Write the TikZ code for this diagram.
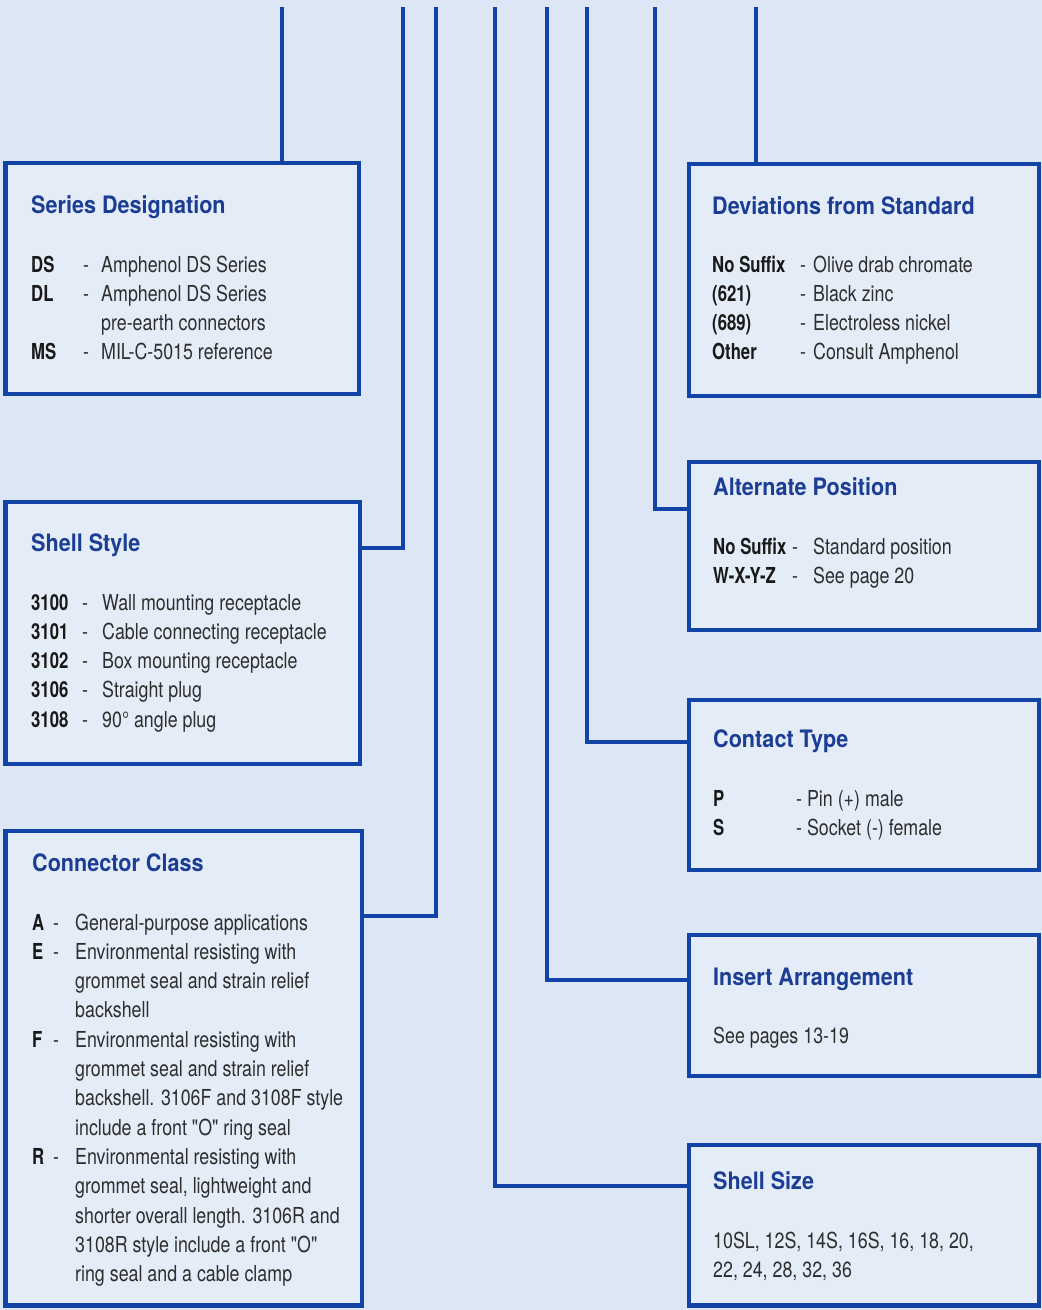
\documentclass[tikz,border=0pt]{standalone}
\usepackage{fontspec}
\newfontfamily\bodyfont[FakeStretch=0.81]{TeX Gyre Heros}
\newfontfamily\keyfont[FakeStretch=0.76]{TeX Gyre Heros}
\newfontfamily\headfont[FakeStretch=0.9]{TeX Gyre Heros}
\definecolor{paper}{HTML}{DDE6F4}
\definecolor{panel}{HTML}{E4ECF8}
\definecolor{frame}{HTML}{1243A6}
\definecolor{head}{HTML}{1B3D94}
\definecolor{ink}{HTML}{2E2E2E}
\newcommand{\lbl}[1]{\leavevmode{\keyfont\bfseries\color{black!90}#1}}
\begin{document}
\begin{tikzpicture}[x=1pt,y=-1pt,
  panelbox/.style={rectangle,draw=frame,fill=panel,line width=4.5pt,inner sep=0,outer sep=0,anchor=north west},
  wire/.style={draw=frame,line width=4.5pt},
  title/.style={anchor=base west,inner sep=0,text=head,font={\headfont\bfseries\fontsize{24}{29}\selectfont}},
  body/.style={anchor=base west,inner sep=0,text=ink,font={\bodyfont\fontsize{22}{29.3}\selectfont}}]
\fill[paper](0,0)rectangle(1042,1310);
\useasboundingbox(0,0)rectangle(1042,1310);
\foreach \n/\x in {1/282,2/403,3/436,4/495,5/547,6/587,7/655,8/756}\coordinate(t\n)at(\x,7);
% panels
\node[panelbox,minimum width=353.5pt,minimum height=231pt](sd)at(5.5,163){};
\node[panelbox,minimum width=354.5pt,minimum height=262pt](ss)at(5.5,502){};
\node[panelbox,minimum width=356.5pt,minimum height=474.5pt](cc)at(5.5,831){};
\node[panelbox,minimum width=350pt,minimum height=232pt](dev)at(689,164){};
\node[panelbox,minimum width=350pt,minimum height=168pt](ap)at(689,462){};
\node[panelbox,minimum width=350pt,minimum height=170pt](ct)at(689,700){};
\node[panelbox,minimum width=350pt,minimum height=141pt](ia)at(689,935){};
\node[panelbox,minimum width=350pt,minimum height=160.5pt](sz)at(689,1145){};
% wires
\draw[wire](t1)--(t1|-sd.north);
\draw[wire](t2)|-([yshift=-46pt]ss.north east);
\draw[wire](t3)|-([yshift=-85pt]cc.north east);
\draw[wire](t4)|-([yshift=-41pt]sz.north west);
\draw[wire](t5)|-([yshift=-45pt]ia.north west);
\draw[wire](t6)|-([yshift=-42pt]ct.north west);
\draw[wire](t7)|-([yshift=-47pt]ap.north west);
\draw[wire](t8)--(t8|-dev.north);
% texts
\node[title](sdh)at(31,213){Series Designation};
\node[body](sdb)at(31,272){\begin{tabular}[t]{@{}p{52pt}@{}p{18pt}@{}l@{}}
\lbl{DS}&-&Amphenol DS Series\\
\lbl{DL}&-&Amphenol DS Series\\
&&pre-earth connectors\\
\lbl{MS}&-&MIL-C-5015 reference\end{tabular}};
\node[title](ssh)at(31,551){Shell Style};
\node[body](ssb)at(31,610){\begin{tabular}[t]{@{}p{51pt}@{}p{20pt}@{}l@{}}
\lbl{3100}&-&Wall mounting receptacle\\
\lbl{3101}&-&Cable connecting receptacle\\
\lbl{3102}&-&Box mounting receptacle\\
\lbl{3106}&-&Straight plug\\
\lbl{3108}&-&90° angle plug\end{tabular}};
\node[title](cch)at(32,871){Connector Class};
\node[body](ccb)at(32,930){\begin{tabular}[t]{@{}p{21pt}@{}p{22pt}@{}l@{}}
\lbl{A}&-&General-purpose applications\\
\lbl{E}&-&Environmental resisting with\\
&&grommet seal and strain relief\\
&&backshell\\
\lbl{F}&-&Environmental resisting with\\
&&grommet seal and strain relief\\
&&backshell. 3106F and 3108F style\\
&&include a front "O" ring seal\\
\lbl{R}&-&Environmental resisting with\\
&&grommet seal, lightweight and\\
&&shorter overall length. 3106R and\\
&&3108R style include a front "O"\\
&&ring seal and a cable clamp\end{tabular}};
\node[title](devh)at(712,214){Deviations from Standard};
\node[body](devb)at(712,272){\begin{tabular}[t]{@{}p{88pt}@{}p{13pt}@{}l@{}}
\lbl{No Suffix}&-&Olive drab chromate\\
\lbl{(621)}&-&Black zinc\\
\lbl{(689)}&-&Electroless nickel\\
\lbl{Other}&-&Consult Amphenol\end{tabular}};
\node[title](aph)at(713,495){Alternate Position};
\node[body](apb)at(713,554){\begin{tabular}[t]{@{}p{79pt}@{}p{21pt}@{}l@{}}
\lbl{No Suffix}&-&Standard position\\
\lbl{W-X-Y-Z}&-&See page 20\end{tabular}};
\node[title](cth)at(713,747){Contact Type};
\node[body](ctb)at(713,806){\begin{tabular}[t]{@{}p{83pt}@{}l@{}}
\lbl{P}&- Pin (+) male\\
\lbl{S}&- Socket (-) female\end{tabular}};
\node[title](iah)at(713,985){Insert Arrangement};
\node[body](iab)at(713,1043){See pages 13-19};
\node[title](szh)at(713,1189){Shell Size};
\node[body](szb)at(713,1248){\begin{tabular}[t]{@{}l@{}}
10SL, 12S, 14S, 16S, 16, 18, 20,\\
22, 24, 28, 32, 36\end{tabular}};
\end{tikzpicture}
\end{document}
